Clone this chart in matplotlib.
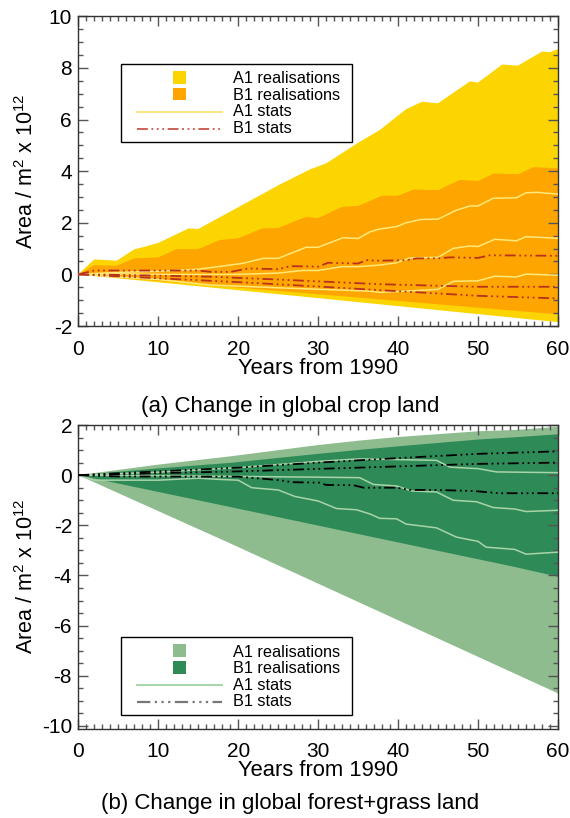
import numpy as np
import matplotlib
matplotlib.use("Agg")
import matplotlib.pyplot as plt
from matplotlib.lines import Line2D
from matplotlib.patches import Rectangle
from matplotlib.ticker import MultipleLocator

plt.rcParams['font.family'] = ['Liberation Sans', 'DejaVu Sans']
plt.rcParams['mathtext.fontset'] = 'custom'
plt.rcParams['mathtext.rm'] = 'Liberation Sans'
plt.rcParams['axes.unicode_minus'] = False

# ---------------- (a) crop land ----------------
crop_a1_up_t = [0, 2, 4.8, 7, 8.3, 10, 13.8, 15, 20, 25, 29, 31, 35, 37.7, 41, 43, 45, 49, 50, 53, 55, 58, 59, 60]
crop_a1_up_v = [0, 0.58, 0.53, 0.97, 1.07, 1.22, 1.78, 1.76, 2.6, 3.45, 4.07, 4.3, 5.1, 5.59, 6.4, 6.69, 6.63, 7.48, 7.43, 8.13, 8.09, 8.63, 8.61, 8.73]
crop_a1_lo_t = [0, 30, 60]
crop_a1_lo_v = [0, -0.92, -1.85]
crop_b1_up_t = [0, 2, 4.8, 7, 10, 12.3, 15, 17.7, 20, 23, 25, 28.5, 30, 33, 35, 38, 40, 42, 45, 47.7, 50, 52, 55, 57, 60]
crop_b1_up_v = [0, 0.36, 0.33, 0.62, 0.66, 0.98, 0.98, 1.33, 1.4, 1.78, 1.8, 2.23, 2.18, 2.62, 2.65, 3.05, 3.05, 3.29, 3.26, 3.66, 3.62, 3.91, 3.88, 4.16, 4.11]
crop_b1_lo_t = [0, 30, 60]
crop_b1_lo_v = [0, -0.77, -1.55]

# A1 statistics (three lines)
crop_a1s_t = [
    [0, 5, 10, 15, 17.5, 20.6, 23.1, 25, 28.5, 30, 33.1, 35, 36.5, 37.7, 39.8, 41, 42.9, 45, 47.3, 49, 50, 51.9, 54.8, 56, 57.3, 60],
    [0, 5, 10, 15, 20, 25, 28, 30, 33, 35, 37.7, 39.8, 41.5, 45, 46.9, 49, 50, 52.1, 54.8, 56, 60],
    [0, 5, 10, 16.5, 25, 36.5, 37.7, 45, 46.9, 50, 52.1, 54.8, 56, 60],
]
crop_a1s_v = [
    [0, 0.08, 0.12, 0.2, 0.3, 0.43, 0.62, 0.62, 1.05, 1.05, 1.42, 1.39, 1.65, 1.76, 1.85, 2.0, 2.13, 2.14, 2.49, 2.65, 2.65, 2.95, 2.97, 3.16, 3.18, 3.11],
    [0, 0.02, 0.0, 0.0, 0.0, 0.05, 0.15, 0.15, 0.3, 0.3, 0.36, 0.45, 0.64, 0.66, 1.01, 1.1, 1.08, 1.36, 1.3, 1.46, 1.4],
    [0, -0.1, -0.2, -0.41, -0.52, -0.65, -0.7, -0.58, -0.27, -0.25, -0.07, -0.1, 0.01, -0.03],
]
# B1 statistics (three lines)
crop_b1s_t = [
    [0, 2, 15, 16.5, 19.1, 21.25, 25, 26.5, 30, 31.25, 35, 36, 37.7, 41, 42.3, 45, 46.5, 50, 51.5, 60],
    [0, 5, 10, 16.5, 25, 37.7, 45, 50, 60],
    [0, 10, 20, 30, 37.7, 45, 50, 60],
]
crop_b1s_v = [
    [0, 0.15, 0.15, 0.1, 0.1, 0.23, 0.2, 0.32, 0.3, 0.45, 0.42, 0.55, 0.53, 0.55, 0.62, 0.62, 0.66, 0.64, 0.74, 0.72],
    [0, -0.02, -0.05, -0.09, -0.2, -0.38, -0.44, -0.48, -0.48],
    [0, -0.15, -0.3, -0.47, -0.61, -0.74, -0.83, -0.93],
]

# ---------------- (b) forest + grass land ----------------
land_a1_up_t = [0, 10, 19, 30, 35.2, 40, 50, 54.6, 60]
land_a1_up_v = [0, 0.42, 0.75, 1.2, 1.38, 1.52, 1.75, 1.8, 1.93]
land_a1_lo_t = [0, 19, 60]
land_a1_lo_v = [0, -2.72, -8.7]
land_b1_up_t = [0, 10, 19, 30, 35.2, 40, 50, 54.6, 60]
land_b1_up_v = [0, 0.27, 0.49, 0.85, 1.01, 1.15, 1.42, 1.51, 1.63]
land_b1_lo_t = [0, 19, 35.2, 54.6, 60]
land_b1_lo_v = [0, -1.27, -2.36, -3.66, -4.05]

land_a1s_t = [
    [0, 10, 20, 30, 35.2, 44.8, 46.5, 50, 52.3, 54.6, 60],
    [0, 10, 20, 30, 35.2, 36.9, 39.8, 41.7, 44.8, 46.9, 49.8, 51.9, 54.6, 56, 60],
    [0, 2, 5, 10, 15, 17.7, 20, 21.7, 25, 27.1, 30, 32.3, 34.8, 36.5, 37.7, 39.8, 41, 44.8, 47.3, 50, 51, 54.6, 56, 60],
]
land_a1s_v = [
    [0, 0.12, 0.3, 0.55, 0.65, 0.59, 0.32, 0.26, 0.13, 0.12, 0.1],
    [0, -0.02, -0.05, -0.08, -0.1, -0.37, -0.43, -0.63, -0.67, -1.0, -1.06, -1.29, -1.35, -1.45, -1.4],
    [0, -0.2, -0.2, -0.2, -0.12, -0.17, -0.2, -0.5, -0.59, -0.85, -1.03, -1.33, -1.38, -1.55, -1.72, -1.74, -1.95, -2.1, -2.47, -2.64, -2.87, -2.96, -3.15, -3.07],
]
land_b1s_t = [
    [0, 10, 20, 30, 40, 50, 60],
    [0, 10, 20, 30, 40, 50, 60],
    [0, 5, 17.7, 20, 25.2, 26.7, 30.2, 31, 34.4, 35.7, 39.8, 41.5, 44.8, 49.4, 52.7, 60],
]
land_b1s_v = [
    [0, 0.15, 0.3, 0.5, 0.68, 0.85, 0.95],
    [0, 0.08, 0.15, 0.25, 0.35, 0.45, 0.5],
    [0, -0.05, -0.06, -0.06, -0.2, -0.28, -0.3, -0.39, -0.4, -0.5, -0.5, -0.59, -0.59, -0.63, -0.72, -0.72],
]

legend_labels = ["A1 realisations", "B1 realisations", "A1 stats", "B1 stats"]

DASH3 = (0, (6, 2, 1, 2, 1, 2, 1, 2))
W, H = 570, 818
fig = plt.figure(figsize=(W / 100, H / 100), dpi=100)


def fx(px):
    return px / W


def fy(py):
    return 1 - py / H


def band(ax, tu, vu, tl, vl, color):
    xs = np.concatenate([tu, tl[::-1]])
    ys = np.concatenate([vu, vl[::-1]])
    ax.fill(xs, ys, color=color, lw=0, zorder=1)


def style_axes(ax, ylim, ystep):
    ax.set_xlim(0, 60)
    ax.set_ylim(*ylim)
    ax.xaxis.set_major_locator(MultipleLocator(10))
    ax.xaxis.set_minor_locator(MultipleLocator(1))
    ax.yaxis.set_major_locator(MultipleLocator(ystep))
    ax.yaxis.set_minor_locator(MultipleLocator(ystep / 4))
    ax.tick_params(which='both', direction='in', top=True, right=True,
                   color='#555555', width=1.0)
    ax.tick_params(which='major', length=7, labelsize=15)
    ax.tick_params(axis='x', which='major', pad=10)
    ax.tick_params(axis='y', which='major', pad=4.5)
    ax.tick_params(which='minor', length=3.5)
    for s in ax.spines.values():
        s.set_linewidth(1.0)
        s.set_color('#333333')
    ax.set_xlabel("Years from 1990", fontsize=15.8, labelpad=-1)
    ax.set_ylabel("Area / m$^{2}$ x 10$^{12}$", fontsize=15.5)
    ax.yaxis.set_label_coords(-0.084, 0.5)


def draw_legend(top, c_a1, c_b1, c_a1s, c_b1s, b1s_width):
    """Framed key box; `top` is the upper edge of the frame in pixels."""
    left, right = 120.7, 351.7
    height = 78
    fig.add_artist(Rectangle((fx(left), fy(top + height)), fx(right) - fx(left),
                             fy(top) - fy(top + height), transform=fig.transFigure,
                             facecolor='white', edgecolor='black', lw=1.0, zorder=10))
    rows = [top + 13.5 + 16.5 * i for i in range(4)]
    sq = 12.7
    for yc, c in zip(rows[:2], (c_a1, c_b1)):
        fig.add_artist(Rectangle((fx(179.5 - sq / 2), fy(yc + sq / 2)), sq / W, sq / H,
                                 transform=fig.transFigure, facecolor=c, edgecolor='none', zorder=11))
    fig.add_artist(Line2D([fx(136.7), fx(221.7)], [fy(rows[2] + 1.5)] * 2, transform=fig.transFigure,
                          color=c_a1s, lw=1.4, zorder=11))
    fig.add_artist(Line2D([fx(136.7), fx(221.7)], [fy(rows[3] + 1.5)] * 2, transform=fig.transFigure,
                          color=c_b1s, lw=b1s_width, ls=DASH3, zorder=11))
    for yc, lab in zip(rows, legend_labels):
        fig.text(fx(233.3), fy(yc + 5.8), lab, fontsize=11.7, ha='left', va='baseline', zorder=12)


# ---- panel (a)
ax1 = fig.add_axes([fx(78.3), fy(326), (558 - 78.3) / W, (326 - 16.3) / H])
GOLD, ORANGE = '#FCD400', '#FFA500'
A1_LINE_A, B1_LINE_A = '#FFE97A', '#B8321E'
band(ax1, crop_a1_up_t, crop_a1_up_v, crop_a1_lo_t, crop_a1_lo_v, GOLD)
band(ax1, crop_b1_up_t, crop_b1_up_v, crop_b1_lo_t, crop_b1_lo_v, ORANGE)
for t, v in zip(crop_a1s_t, crop_a1s_v):
    ax1.plot(t, v, color=A1_LINE_A, lw=1.1, zorder=3)
for t, v in zip(crop_b1s_t, crop_b1s_v):
    ax1.plot(t, v, color=B1_LINE_A, lw=1.3, ls=DASH3, zorder=4)
style_axes(ax1, (-2, 10), 2)
draw_legend(64, GOLD, ORANGE, '#FFE680', '#C8554A', 1.3)

# ---- panel (b)
ax2 = fig.add_axes([fx(78.3), fy(728.5), (558 - 78.3) / W, (728.5 - 425) / H])
LGREEN, DGREEN = '#8FBC8F', '#2E8B57'
A1_LINE_B, B1_LINE_B = '#A9D4A9', '#000000'
band(ax2, land_a1_up_t, land_a1_up_v, land_a1_lo_t, land_a1_lo_v, LGREEN)
band(ax2, land_b1_up_t, land_b1_up_v, land_b1_lo_t, land_b1_lo_v, DGREEN)
for t, v in zip(land_a1s_t, land_a1s_v):
    ax2.plot(t, v, color=A1_LINE_B, lw=1.1, zorder=3)
for t, v in zip(land_b1s_t, land_b1s_v):
    ax2.plot(t, v, color=B1_LINE_B, lw=1.3, ls=DASH3, zorder=4)
style_axes(ax2, (-10.1, 2), 2)
draw_legend(637.3, LGREEN, DGREEN, '#A9D4A9', '#777777', 1.6)

fig.text(fx(290), fy(407), "(a) Change in global crop land", ha='center', va='center', fontsize=16)
fig.text(fx(290), fy(803), "(b) Change in global forest+grass land", ha='center', va='center', fontsize=16)

fig.savefig("out.png", dpi=100)
